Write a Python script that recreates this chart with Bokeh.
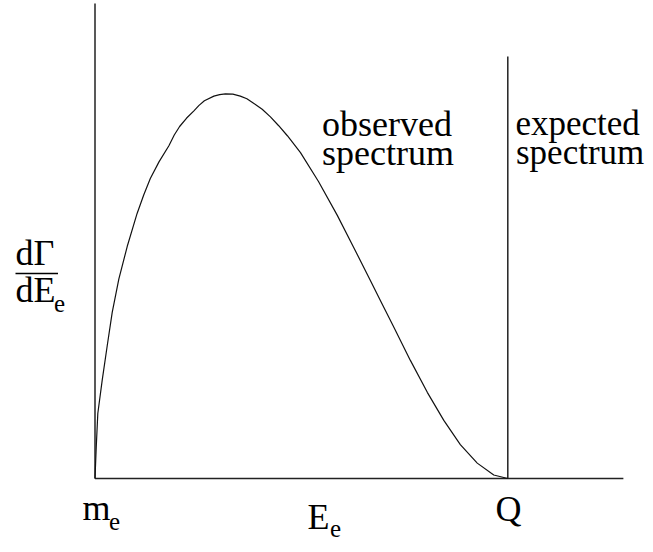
from bokeh.plotting import figure
from bokeh.models import Range1d
from bokeh.core.properties import value
from bokeh.embed import file_html
from bokeh.resources import INLINE

# Electron energy (m_e = 0, Q = 1) and decay rate dΓ/dE_e (peak = 1)
energy = [0.0, 0.003, 0.0068, 0.0174, 0.0296, 0.0417, 0.0577, 0.078, 0.102, 0.118,
          0.134, 0.155, 0.179, 0.192, 0.205, 0.222, 0.239, 0.252, 0.265, 0.288,
          0.302, 0.316, 0.334, 0.352, 0.368, 0.385, 0.405, 0.425, 0.445, 0.466,
          0.4978, 0.5414, 0.587, 0.627, 0.6674, 0.6916, 0.724, 0.764, 0.805, 0.845,
          0.885, 0.926, 0.966, 1.0]
rate = [0.0, 0.081, 0.169, 0.255, 0.345, 0.432, 0.518, 0.603, 0.689, 0.737,
        0.780, 0.823, 0.865, 0.893, 0.915, 0.937, 0.955, 0.970, 0.982, 0.994,
        0.998, 1.0, 0.999, 0.994, 0.987, 0.975, 0.960, 0.940, 0.917, 0.891,
        0.847, 0.772, 0.684, 0.600, 0.514, 0.462, 0.393, 0.307, 0.224, 0.151,
        0.088, 0.040, 0.009, 0.0]

q_value = 1.0
x_axis_end = 1.28
y_axis_end = 1.235
expected_top = 1.097

FONT = value("Liberation Serif")

W, H = 645, 544
SX, SY = 412.8, 384.7          # pixels per data unit
OX, OY = 94.5, 478.0           # pixel position of (m_e, 0)


def dx(px):
    return (px - OX) / SX


def dy(py):
    return (OY - py) / SY


p = figure(width=W, height=H, output_backend="svg", toolbar_location=None,
           x_axis_type=None, y_axis_type=None, min_border=0,
           x_range=Range1d(dx(0), dx(W)), y_range=Range1d(dy(H), dy(0)))
p.grid.visible = False
p.outline_line_color = None
p.background_fill_color = "white"
p.border_fill_color = "white"

# axes
p.line([0, 0], [0, y_axis_end], line_color="#222222", line_width=1.5)
p.line([0, x_axis_end], [0, 0], line_color="#222222", line_width=1.5)
# expected spectrum endpoint line at Q
p.line([q_value, q_value], [0, expected_top], line_color="#222222", line_width=1.5)
# observed spectrum
p.line(energy, rate, line_color="#111111", line_width=1.2)


def txt(px, baseline, s, size=36):
    # compensate the renderer's baseline offset (~0.386 em)
    p.text([dx(px)], [dy(baseline - 0.386 * size)], text=[s], text_font=FONT,
           text_font_size=value(f"{size}px"), text_color="black",
           text_align="left", text_baseline="alphabetic")


txt(321.5, 137, "observed")
txt(321.5, 166, "spectrum")
txt(515, 137, "expected", 35)
txt(515.5, 166, "spectrum", 35)

# x axis labels
txt(82, 521, "m")
txt(108.5, 531, "e", 25)
txt(495, 522, "Q")
txt(307, 530, "E")
txt(329.5, 538, "e", 25)

# y axis label dΓ/dE_e
txt(15, 266, "dΓ")
p.segment([dx(15)], [dy(273)], [dx(57.5)], [dy(273)], line_color="black", line_width=1.5)
txt(15, 303, "dE")
txt(53.5, 313, "e", 25)

open("out.html", "w").write(file_html(p, INLINE))
